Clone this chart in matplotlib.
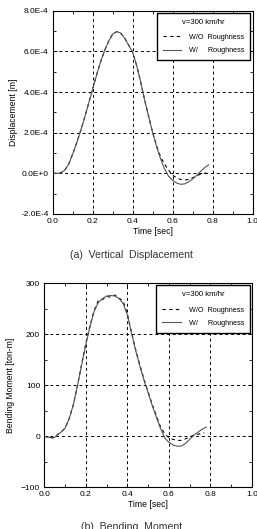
import matplotlib
matplotlib.use("Agg")
import matplotlib.pyplot as plt
from matplotlib.ticker import MultipleLocator, FuncFormatter

plt.rcParams['font.family'] = ['Liberation Sans', 'DejaVu Sans']

# --- Data: vertical displacement (m) ---
t_disp = [0.00, 0.02, 0.04, 0.06, 0.08, 0.10, 0.12, 0.14, 0.16, 0.18, 0.20, 0.22, 0.24, 0.26,
          0.28, 0.30, 0.32, 0.34, 0.36, 0.38, 0.40, 0.42, 0.44, 0.46, 0.48, 0.50, 0.52, 0.54,
          0.56, 0.58, 0.60, 0.62, 0.64, 0.66, 0.68, 0.70, 0.72, 0.74, 0.76, 0.78]
disp_with = [0.0, 0.0, 0.02e-4, 0.15e-4, 0.45e-4, 0.95e-4, 1.5e-4, 2.1e-4, 2.75e-4, 3.45e-4,
             4.15e-4, 4.85e-4, 5.5e-4, 6.05e-4, 6.5e-4, 6.85e-4, 6.97e-4, 6.9e-4, 6.65e-4, 6.3e-4,
             5.95e-4, 5.3e-4, 4.5e-4, 3.6e-4, 2.8e-4, 2.0e-4, 1.3e-4, 0.7e-4, 0.2e-4, -0.15e-4,
             -0.35e-4, -0.48e-4, -0.54e-4, -0.52e-4, -0.42e-4, -0.28e-4, -0.1e-4, 0.1e-4, 0.28e-4, 0.42e-4]
t_disp_wo = [0.00, 0.02, 0.04, 0.06, 0.08, 0.10, 0.12, 0.14, 0.16, 0.18, 0.20, 0.22, 0.24, 0.26,
             0.28, 0.30, 0.32, 0.34, 0.36, 0.38, 0.40, 0.42, 0.44, 0.46, 0.48, 0.50, 0.52, 0.54,
             0.56, 0.58, 0.60, 0.62, 0.64, 0.66, 0.68, 0.70, 0.72, 0.74, 0.76, 0.77]
disp_without = [0.0, 0.0, 0.02e-4, 0.15e-4, 0.45e-4, 0.95e-4, 1.5e-4, 2.1e-4, 2.75e-4, 3.45e-4,
                4.15e-4, 4.85e-4, 5.5e-4, 6.05e-4, 6.5e-4, 6.85e-4, 6.97e-4, 6.9e-4, 6.65e-4, 6.3e-4,
                5.95e-4, 5.3e-4, 4.5e-4, 3.6e-4, 2.8e-4, 2.0e-4, 1.35e-4, 0.8e-4, 0.45e-4, 0.15e-4,
                -0.1e-4, -0.22e-4, -0.3e-4, -0.33e-4, -0.3e-4, -0.22e-4, -0.12e-4, -0.04e-4, 0.0, 0.02e-4]

# --- Data: bending moment (ton-m) ---
t_bm = [0.00, 0.02, 0.04, 0.05, 0.06, 0.08, 0.10, 0.12, 0.14, 0.16, 0.18, 0.20, 0.22, 0.24, 0.26,
        0.28, 0.30, 0.32, 0.34, 0.36, 0.38, 0.40, 0.42, 0.44, 0.46, 0.48, 0.50, 0.52, 0.54,
        0.56, 0.58, 0.60, 0.62, 0.64, 0.66, 0.68, 0.70, 0.72, 0.74, 0.76, 0.78]
bm_with = [0, -2, -3, -2, 2, 8, 16, 35, 62, 100, 140, 180, 215, 245, 262,
           270, 275, 276, 275, 270, 260, 238, 202, 168, 138, 110, 85, 60, 37,
           15, -3, -12, -17, -19.5, -19, -14, -6, 2, 8, 14, 18]
t_bm_wo = [0.00, 0.02, 0.04, 0.05, 0.06, 0.08, 0.10, 0.12, 0.14, 0.16, 0.18, 0.20, 0.22, 0.24, 0.26,
           0.28, 0.30, 0.32, 0.34, 0.36, 0.38, 0.40, 0.42, 0.44, 0.46, 0.48, 0.50, 0.52, 0.54,
           0.56, 0.58, 0.60, 0.62, 0.64, 0.66, 0.68, 0.70, 0.72, 0.74, 0.76, 0.77]
bm_without = [0, -2, -3, -2, 2, 8, 16, 35, 62, 100, 142, 182, 217, 247, 266,
              268, 274, 273, 277, 271, 265, 240, 204, 170, 140, 112, 87, 62, 40,
              18, 5, -3, -6, -8, -8, -5, -1, 2, 4, 6, 7]

xticks = [0.0, 0.2, 0.4, 0.6, 0.8, 1.0]
disp_yticks = [-2e-4, 0.0, 2e-4, 4e-4, 6e-4, 8e-4]
bm_yticks = [-100, 0, 100, 200, 300]

legend_title = "v=300 km/hr"
label_wo = "W/O  Roughness"
label_w = "W/     Roughness"

fig = plt.figure(figsize=(2.57, 5.29), dpi=100)
ax1 = fig.add_axes([0.205, 0.5955, 0.778, 0.3843])
ax2 = fig.add_axes([0.1724, 0.0788, 0.808, 0.3857])

def style(ax, yminor):
    ax.set_xlim(0, 1.0)
    ax.set_xticks(xticks)
    ax.xaxis.set_minor_locator(MultipleLocator(0.1))
    ax.yaxis.set_minor_locator(MultipleLocator(yminor))
    ax.tick_params(which='both', direction='in', top=True, right=True, labelsize=6,
                   width=0.6, pad=3)
    ax.tick_params(which='major', length=3)
    ax.tick_params(which='minor', length=2)
    ax.grid(True, which='major', color='black', linestyle=(0, (3, 3)), linewidth=0.7)
    for s in ax.spines.values():
        s.set_linewidth(0.8)
    ax.xaxis.set_major_formatter(FuncFormatter(lambda v, p: f"{v:.1f}"))

def add_legend(ax):
    leg = ax.legend(title=legend_title, loc='upper right', fontsize=5.2, title_fontsize=5.6,
                    frameon=True, fancybox=False, edgecolor='black', framealpha=1,
                    borderaxespad=0.3, handlelength=2.6, labelspacing=0.85,
                    borderpad=0.8, handletextpad=1.1)
    leg.get_frame().set_linewidth(1.0)
    leg._legend_box.sep = 6

# Top: displacement
ax1.plot(t_disp_wo, disp_without, color='black', linestyle=(0, (3, 3)), linewidth=0.8, label=label_wo)
ax1.plot(t_disp, disp_with, color='#555555', linestyle='-', linewidth=0.8, label=label_w)
style(ax1, 1e-4)
ax1.set_ylim(-2e-4, 8e-4)
ax1.set_yticks(disp_yticks)
ax1.yaxis.set_major_formatter(FuncFormatter(
    lambda v, p: "0.0E+0" if abs(v) < 1e-12 else f"{v/1e-4:.1f}E-4"))
ax1.set_xlabel("Time [sec]", fontsize=6.2, labelpad=1)
ax1.set_ylabel("Displacement [m]", fontsize=6.2, labelpad=2)
add_legend(ax1)

# Bottom: bending moment
ax2.plot(t_bm_wo, bm_without, color='black', linestyle=(0, (3, 3)), linewidth=0.8, label=label_wo)
ax2.plot(t_bm, bm_with, color='#555555', linestyle='-', linewidth=0.8, label=label_w)
style(ax2, 50)
ax2.set_ylim(-100, 300)
ax2.set_yticks(bm_yticks)
ax2.set_xlabel("Time [sec]", fontsize=6.2, labelpad=1)
ax2.set_ylabel("Bending Moment [ton-m]", fontsize=6.2, labelpad=4)
add_legend(ax2)

fig.text(0.51, 1 - 255/529, "(a)  Vertical  Displacement", ha='center', va='center',
         fontsize=7.6, color='#333333')
fig.text(0.51, 1 - 527/529, "(b)  Bending  Moment", ha='center', va='center',
         fontsize=7.6, color='#333333')

fig.savefig("out.png", dpi=100)
